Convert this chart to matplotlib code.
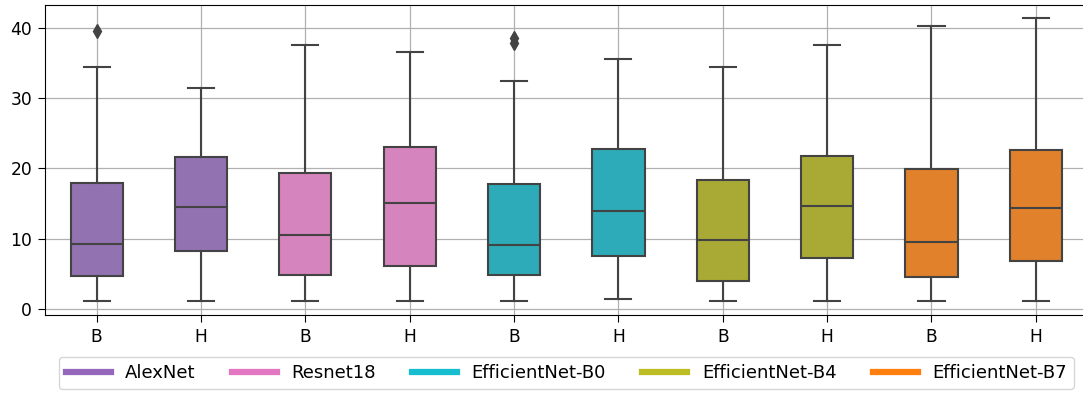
import colorsys
import matplotlib
matplotlib.use("Agg")
import matplotlib.pyplot as plt
import matplotlib.colors as mcolors
from matplotlib.lines import Line2D

# Models and the two conditions per model
models = ["AlexNet", "Resnet18", "EfficientNet-B0", "EfficientNet-B4", "EfficientNet-B7"]
conditions = ["B", "H"]
model_colors = ["tab:purple", "tab:pink", "tab:cyan", "tab:olive", "tab:orange"]

# Box statistics, one entry per (model, condition) in order
whisker_low = [1.1, 1.1, 1.1, 1.1, 1.1, 1.4, 1.1, 1.1, 1.1, 1.1]
q1 = [4.7, 8.2, 4.8, 6.1, 4.8, 7.6, 4.0, 7.3, 4.6, 6.9]
median = [9.3, 14.5, 10.5, 15.1, 9.1, 14.0, 9.8, 14.7, 9.6, 14.4]
q3 = [18.0, 21.6, 19.3, 23.0, 17.8, 22.8, 18.4, 21.8, 19.9, 22.6]
whisker_high = [34.5, 31.4, 37.6, 36.6, 32.4, 35.6, 34.5, 37.6, 40.3, 41.4]
outliers = [[39.6], [], [], [], [38.6, 37.8], [], [], [], [], []]


def desaturate(color, prop):
    r, g, b = mcolors.to_rgb(color)
    h, l, s = colorsys.rgb_to_hls(r, g, b)
    return colorsys.hls_to_rgb(h, l, s * prop)


box_colors = [desaturate(c, 0.75) for c in model_colors]
lum = min(colorsys.rgb_to_hls(*c)[1] for c in box_colors) * 0.6
line_gray = (lum, lum, lum)

fig = plt.figure(figsize=(10.83, 3.94), dpi=100)
ax = fig.add_axes([0.0411, 0.1997, 0.9635, 0.7883])

stats = []
labels = []
fill = []
for i in range(len(median)):
    stats.append(dict(whislo=whisker_low[i], q1=q1[i], med=median[i],
                      q3=q3[i], whishi=whisker_high[i], fliers=outliers[i]))
    labels.append(conditions[i % 2])
    fill.append(box_colors[i // 2])

positions = list(range(len(stats)))
line_kw = dict(color=line_gray, linewidth=1.5)
parts = ax.bxp(stats, positions=positions, widths=0.5, patch_artist=True,
               boxprops=dict(edgecolor=line_gray, linewidth=1.5),
               medianprops=line_kw, whiskerprops=line_kw, capprops=line_kw,
               flierprops=dict(marker="d", markerfacecolor=line_gray,
                               markeredgecolor=line_gray, markersize=7),
               zorder=3)
for patch, c in zip(parts["boxes"], fill):
    patch.set_facecolor(c)

ax.set_xticks(positions)
ax.set_xticklabels(labels)
ax.set_xlim(-0.5, len(stats) - 0.5)
ax.set_ylim(-0.9, 43.3)
ax.set_yticks([0, 10, 20, 30, 40])
ax.tick_params(labelsize=12.3, length=5, pad=4)
ax.grid(True, color="#b0b0b0", linewidth=0.9, zorder=0)
ax.set_axisbelow(True)

handles = [Line2D([0], [0], color=c, linewidth=4.5) for c in model_colors]
ax.legend(handles, models, loc="upper center", bbox_to_anchor=(0.5, -0.133),
          borderaxespad=0, ncol=5, fontsize=13, handlelength=2.5,
          columnspacing=2.0)

fig.savefig("out.png", dpi=100)
